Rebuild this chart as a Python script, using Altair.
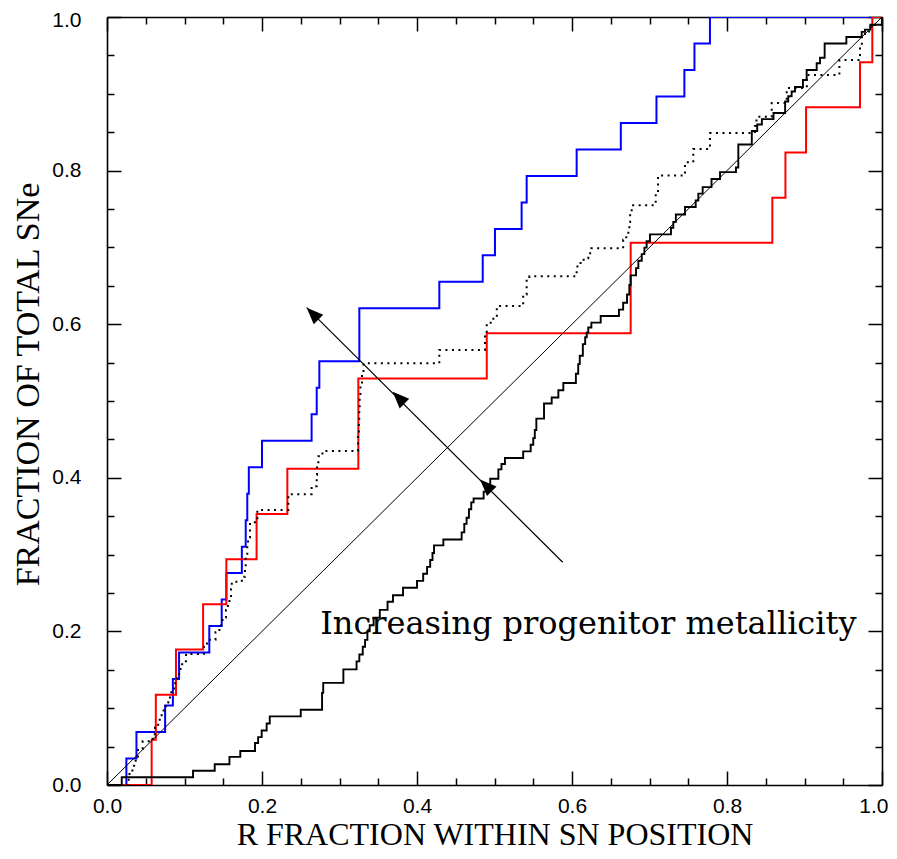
import altair as alt
import pandas as pd

# ---- data (cumulative step functions) ----
blue_x = [0, 0.025, 0.038, 0.075, 0.085, 0.093, 0.132, 0.148, 0.154, 0.174,
          0.179, 0.181, 0.183, 0.200, 0.264, 0.2706, 0.274, 0.3256,
          0.4288, 0.4848, 0.5006, 0.535, 0.5415, 0.606, 0.663, 0.709, 0.745, 0.758, 0.778, 1.0]
blue_y = [0, 0.0345, 0.069, 0.1034, 0.1379, 0.1724, 0.2069, 0.2414, 0.2759, 0.3103,
          0.3448, 0.3793, 0.4138, 0.4483, 0.4828, 0.5172, 0.5517, 0.6207,
          0.6552, 0.6897, 0.7241, 0.7586, 0.7931, 0.8276, 0.8621, 0.8966, 0.9310, 0.9655, 1.0, 1.0]

red_x = [0, 0.0576, 0.063, 0.089, 0.124, 0.154, 0.193, 0.2327, 0.3243, 0.49,
         0.6757, 0.8585, 0.8754, 0.902, 0.9716, 0.9875, 1.0]
red_y = [0, 0.0588, 0.1176, 0.1765, 0.2353, 0.2941, 0.3529, 0.4118, 0.5294, 0.5882,
         0.7059, 0.7647, 0.8235, 0.8824, 0.9412, 1.0, 1.0]

dot_x = [0, 0.028, 0.029, 0.035, 0.037, 0.040, 0.046, 0.059, 0.062, 0.066, 0.0705,
         0.073, 0.0757, 0.079, 0.083, 0.0865, 0.090, 0.093, 0.097, 0.102, 0.125,
         0.129, 0.140, 0.145, 0.149, 0.1535, 0.156, 0.158, 0.160, 0.161, 0.174,
         0.178, 0.179, 0.181, 0.182, 0.1845, 0.194, 0.234, 0.264, 0.2706, 0.271,
         0.2727, 0.278, 0.324, 0.325, 0.3255, 0.326, 0.327, 0.329, 0.331, 0.4288,
         0.4877, 0.49, 0.4985, 0.503, 0.537, 0.5415, 0.545, 0.606, 0.607, 0.615,
         0.621, 0.625, 0.666, 0.670, 0.6727, 0.674, 0.675, 0.677, 0.708, 0.711,
         0.7458, 0.7565, 0.778, 0.836, 0.838, 0.8577, 0.877, 0.903, 0.945, 0.9716,
         0.974, 0.978, 0.985, 1.0]
dot_y = [0, 0.010, 0.019, 0.028, 0.037, 0.047, 0.057, 0.066, 0.075, 0.085, 0.0946,
         0.100, 0.1075, 0.114, 0.123, 0.1325, 0.142, 0.151, 0.161, 0.1707, 0.180,
         0.189, 0.199, 0.208, 0.218, 0.228, 0.237, 0.246, 0.255, 0.2645, 0.271,
         0.284, 0.301, 0.311, 0.3226, 0.342, 0.358, 0.3785, 0.389, 0.404, 0.417,
         0.428, 0.435, 0.458, 0.471, 0.488, 0.505, 0.520, 0.535, 0.549, 0.5665,
         0.587, 0.602, 0.6086, 0.6236, 0.6387, 0.658, 0.6624, 0.671, 0.6796, 0.686,
         0.6925, 0.699, 0.710, 0.716, 0.7226, 0.733, 0.744, 0.755, 0.770, 0.7935,
         0.8108, 0.828, 0.849, 0.858, 0.870, 0.888, 0.9075, 0.9245, 0.944, 0.961,
         0.974, 0.981, 0.990, 1.0]

blk_x = [0, 0.019, 0.111, 0.139, 0.158, 0.172, 0.191, 0.195, 0.1996, 0.206, 0.210,
         0.250, 0.2775, 0.279, 0.305, 0.322, 0.3256, 0.330, 0.333, 0.336, 0.339,
         0.344, 0.352, 0.362, 0.369, 0.382, 0.400, 0.408, 0.413, 0.417, 0.420,
         0.422, 0.434, 0.4576, 0.461, 0.464, 0.467, 0.470, 0.473, 0.486, 0.490,
         0.4945, 0.505, 0.509, 0.5135, 0.537, 0.5467, 0.550, 0.552, 0.554, 0.5639,
         0.5738, 0.5824, 0.5888, 0.605, 0.608, 0.610, 0.614, 0.617, 0.619, 0.621,
         0.625, 0.637, 0.6606, 0.666, 0.671, 0.674, 0.6757, 0.6826, 0.6856, 0.690,
         0.6934, 0.6963, 0.7006, 0.7277, 0.7307, 0.734, 0.7458, 0.7596, 0.763,
         0.7686, 0.780, 0.791, 0.8116, 0.8146, 0.832, 0.839, 0.845, 0.860, 0.875,
         0.879, 0.8834, 0.8877, 0.898, 0.9028, 0.9157, 0.920, 0.926, 0.954, 0.9738,
         0.978, 0.985, 1.0]
blk_y = [0, 0.010, 0.0185, 0.027, 0.0366, 0.0443, 0.0546, 0.0623, 0.071, 0.080, 0.0894,
         0.098, 0.120, 0.133, 0.1505, 0.161, 0.170, 0.180, 0.189, 0.200, 0.208,
         0.218, 0.228, 0.2387, 0.247, 0.2568, 0.2658, 0.275, 0.284, 0.293, 0.302,
         0.312, 0.3196, 0.329, 0.340, 0.348, 0.359, 0.368, 0.373, 0.382, 0.390,
         0.3987, 0.411, 0.418, 0.4258, 0.4344, 0.443, 0.4516, 0.4623, 0.477, 0.4968,
         0.5045, 0.514, 0.5235, 0.5355, 0.548, 0.559, 0.574, 0.583, 0.589, 0.5957,
         0.602, 0.6107, 0.619, 0.628, 0.6387, 0.651, 0.6636, 0.673, 0.6826, 0.6912,
         0.6997, 0.708, 0.717, 0.7256, 0.7333, 0.7428, 0.7527, 0.761, 0.770,
         0.7785, 0.789, 0.798, 0.804, 0.834, 0.8516, 0.860, 0.867, 0.875, 0.890,
         0.8968, 0.903, 0.9088, 0.918, 0.931, 0.9397, 0.947, 0.9655, 0.974, 0.9806,
         0.9836, 0.990, 1.0]

diag_x = [0.0, 1.0]
diag_y = [0.0, 1.0]

# arrow annotation
arrow_from = (0.588, 0.290)
arrow_to = (0.2577, 0.6215)
head_x = [0.2577, 0.3686, 0.4813]
head_y = [0.6215, 0.5119, 0.3978]

label_text = "Increasing progenitor metallicity"
label_pos = (0.275, 0.197)

tick_values = [round(i * 0.05, 2) for i in range(21)]


def frame(xs, ys):
    return pd.DataFrame({"x": xs, "y": ys, "i": list(range(len(xs)))})


major = "abs(datum.value*5 - round(datum.value*5)) < 0.001"
tick_size = {"expr": f"{major} ? -14 : -7"}
label_expr = f"{major} ? format(datum.value, '.1f') : ''"

xscale = alt.Scale(domain=[0, 1], nice=False, zero=False)
yscale = alt.Scale(domain=[0, 1], nice=False, zero=False)

x_axis = alt.Axis(values=tick_values, labelExpr=label_expr, tickSize=tick_size,
                  labelPadding=24, title="R FRACTION WITHIN SN POSITION",
                  labelAlign={"expr": "datum.value > 0.99 ? 'right' : 'center'"},
                  labelOffset={"expr": "datum.value > 0.99 ? 6 : 0"},
                  titlePadding=3, titleFontSize=32, grid=False, labelFlush=False)
y_axis = alt.Axis(values=tick_values, labelExpr=label_expr, tickSize=tick_size,
                  labelPadding=40, title="FRACTION OF TOTAL SNe",
                  labelOffset={"expr": "datum.value > 0.99 ? 3 : 0"},
                  titlePadding=6, titleFontSize=34, titleY=367,
                  grid=False, labelFlush=False)

X = alt.X("x:Q", scale=xscale, axis=x_axis)
Y = alt.Y("y:Q", scale=yscale, axis=y_axis)


def step_layer(xs, ys, color, dash=None, width=2.0):
    kw = dict(interpolate="step-after", color=color, strokeWidth=width, clip=True)
    if dash is not None:
        kw["strokeDash"] = dash
    return alt.Chart(frame(xs, ys)).mark_line(**kw).encode(x=X, y=Y, order="i:Q")


blue = step_layer(blue_x, blue_y, "#0000ff")
red = step_layer(red_x, red_y, "#ff0000")
dotted = step_layer(dot_x, dot_y, "#000000", dash=[2, 4.5], width=2.0)
black = step_layer(blk_x, blk_y, "#000000", width=1.9)

arrow_df = pd.DataFrame({"x": [arrow_from[0]], "y": [arrow_from[1]],
                         "x2": [arrow_to[0]], "y2": [arrow_to[1]]})
arrow = alt.Chart(arrow_df).mark_rule(color="black", strokeWidth=1.2).encode(
    x=X, y=Y, x2="x2:Q", y2="y2:Q")

heads = alt.Chart(frame(head_x, head_y)).mark_point(
    shape="M0,0L0.75,1.85L-0.75,1.85Z", filled=True, fill="black", color="black",
    opacity=1, size=324, angle=315, strokeWidth=0).encode(x=X, y=Y)

text_df = pd.DataFrame({"x": [label_pos[0]], "y": [label_pos[1]], "t": [label_text]})
text = alt.Chart(text_df).mark_text(align="left", baseline="alphabetic",
                                    font="DejaVu Serif", fontSize=32,
                                    color="black").encode(x=X, y=Y, text="t:N")

main = alt.layer(blue, red, dotted, black, arrow, heads, text)

# diagonal carries the top / right tick axes
xt_axis = alt.Axis(orient="top", values=tick_values, labels=False, title=None,
                   tickSize=tick_size, grid=False)
yr_axis = alt.Axis(orient="right", values=tick_values, labels=False, title=None,
                   tickSize=tick_size, grid=False)
diag = alt.Chart(frame(diag_x, diag_y)).mark_line(color="black", strokeWidth=1).encode(
    x=alt.X("x:Q", scale=xscale, axis=xt_axis),
    y=alt.Y("y:Q", scale=yscale, axis=yr_axis),
    order="i:Q")

chart = alt.layer(main, diag).resolve_axis(x="independent", y="independent").properties(
    width=775, height=768,
    autosize=alt.AutoSizeParams(type="none"),
    padding={"left": 99, "top": 9, "right": 7, "bottom": 65},
    background="white",
).configure_view(stroke=None).configure_axis(
    labelFont="Liberation Sans", labelFontSize=21, labelColor="black",
    titleFont="Liberation Serif", titleFontWeight="normal",
    titleColor="black", domainColor="black", domainWidth=1.6,
    tickColor="black", tickWidth=1.5,
)

chart.save("out.html", embed_options={"renderer": "svg", "actions": False})
